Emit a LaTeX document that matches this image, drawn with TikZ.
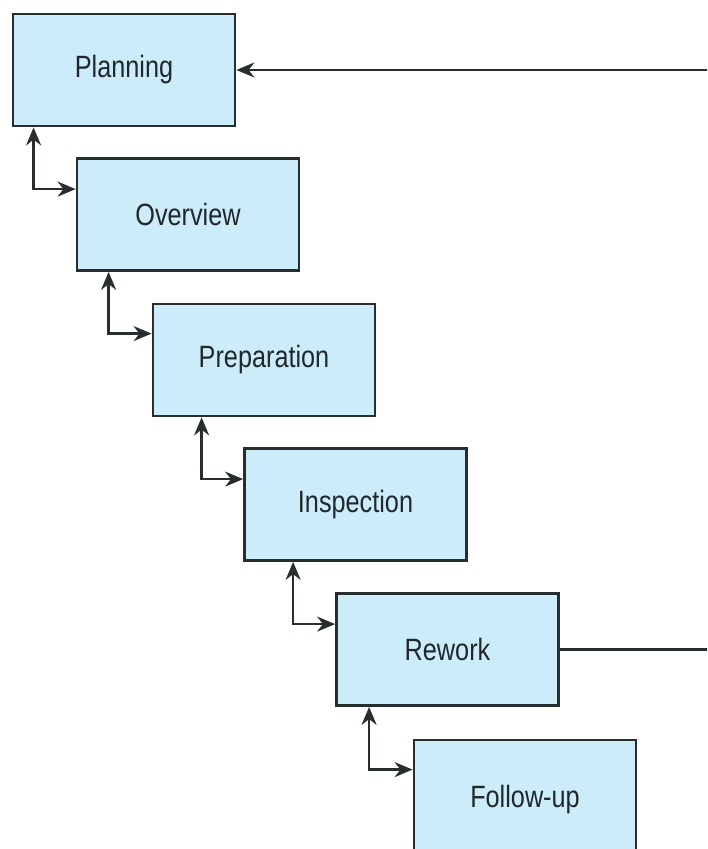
\documentclass[tikz,border=0pt]{standalone}
\usepackage{fontspec}
\setmainfont{Liberation Sans}[FakeStretch=0.82]
\usepackage{xcolor}
\usetikzlibrary{arrows.meta,calc}
\definecolor{boxfill}{RGB}{204,236,250}
\definecolor{boxline}{RGB}{40,46,48}
\definecolor{boxtext}{RGB}{32,40,44}
\tikzset{
  phase/.style={draw=boxline, line width=1.4pt, fill=boxfill, text=boxtext,
    minimum width=111pt, minimum height=56pt, inner sep=0pt,
    font=\fontsize{15.4}{18}\selectfont},
  link/.style={draw=boxline, line width=1.2pt,
    arrows={Stealth[length=9pt,width=7.5pt]-Stealth[length=9pt,width=7.5pt]}},
  back/.style={draw=boxline, line width=1.2pt, -{Stealth[length=9pt,width=7.5pt]}}
}
\begin{document}
\begin{tikzpicture}[x=0.5pt, y=-0.5pt]
		\useasboundingbox (0,0) rectangle (707,849);
		\clip (0,0) rectangle (707,849);
		% the six phases, stepping down to the right
		\node[phase] (plan) at (124,70) {Planning};
		\node[phase] (over) at (188,214.5) {Overview};
		\node[phase] (prep) at (264,360) {Preparation};
		\node[phase] (insp) at (355.5,504.5) {Inspection};
		\node[phase] (rework) at (447.5,649.5) {Rework};
		\node[phase, text depth=0pt] (follow) at (525,796) {Follow-up};
		% two-way links between neighbouring phases
		\draw[link] ($(plan.south west)+(22,0)$) |- ($(over.north west)+(0,32)$);
		\draw[link] ($(over.south west)+(33,0)$) |- ($(prep.north west)+(0,31)$);
		\draw[link] ($(prep.south west)+(50,0)$) |- ($(insp.north west)+(0,32)$);
		\draw[link] ($(insp.south west)+(50,0)$) |- ($(rework.north west)+(0,32)$);
		\draw[link] ($(rework.south west)+(34,0)$) |- ($(follow.north west)+(0,31)$);
		% rework feeds back to planning
		\coordinate (edge) at (716,0);
		\draw[back] (rework.east) -- (rework.east -| edge) |- (plan.east);
	\end{tikzpicture}
\end{document}
